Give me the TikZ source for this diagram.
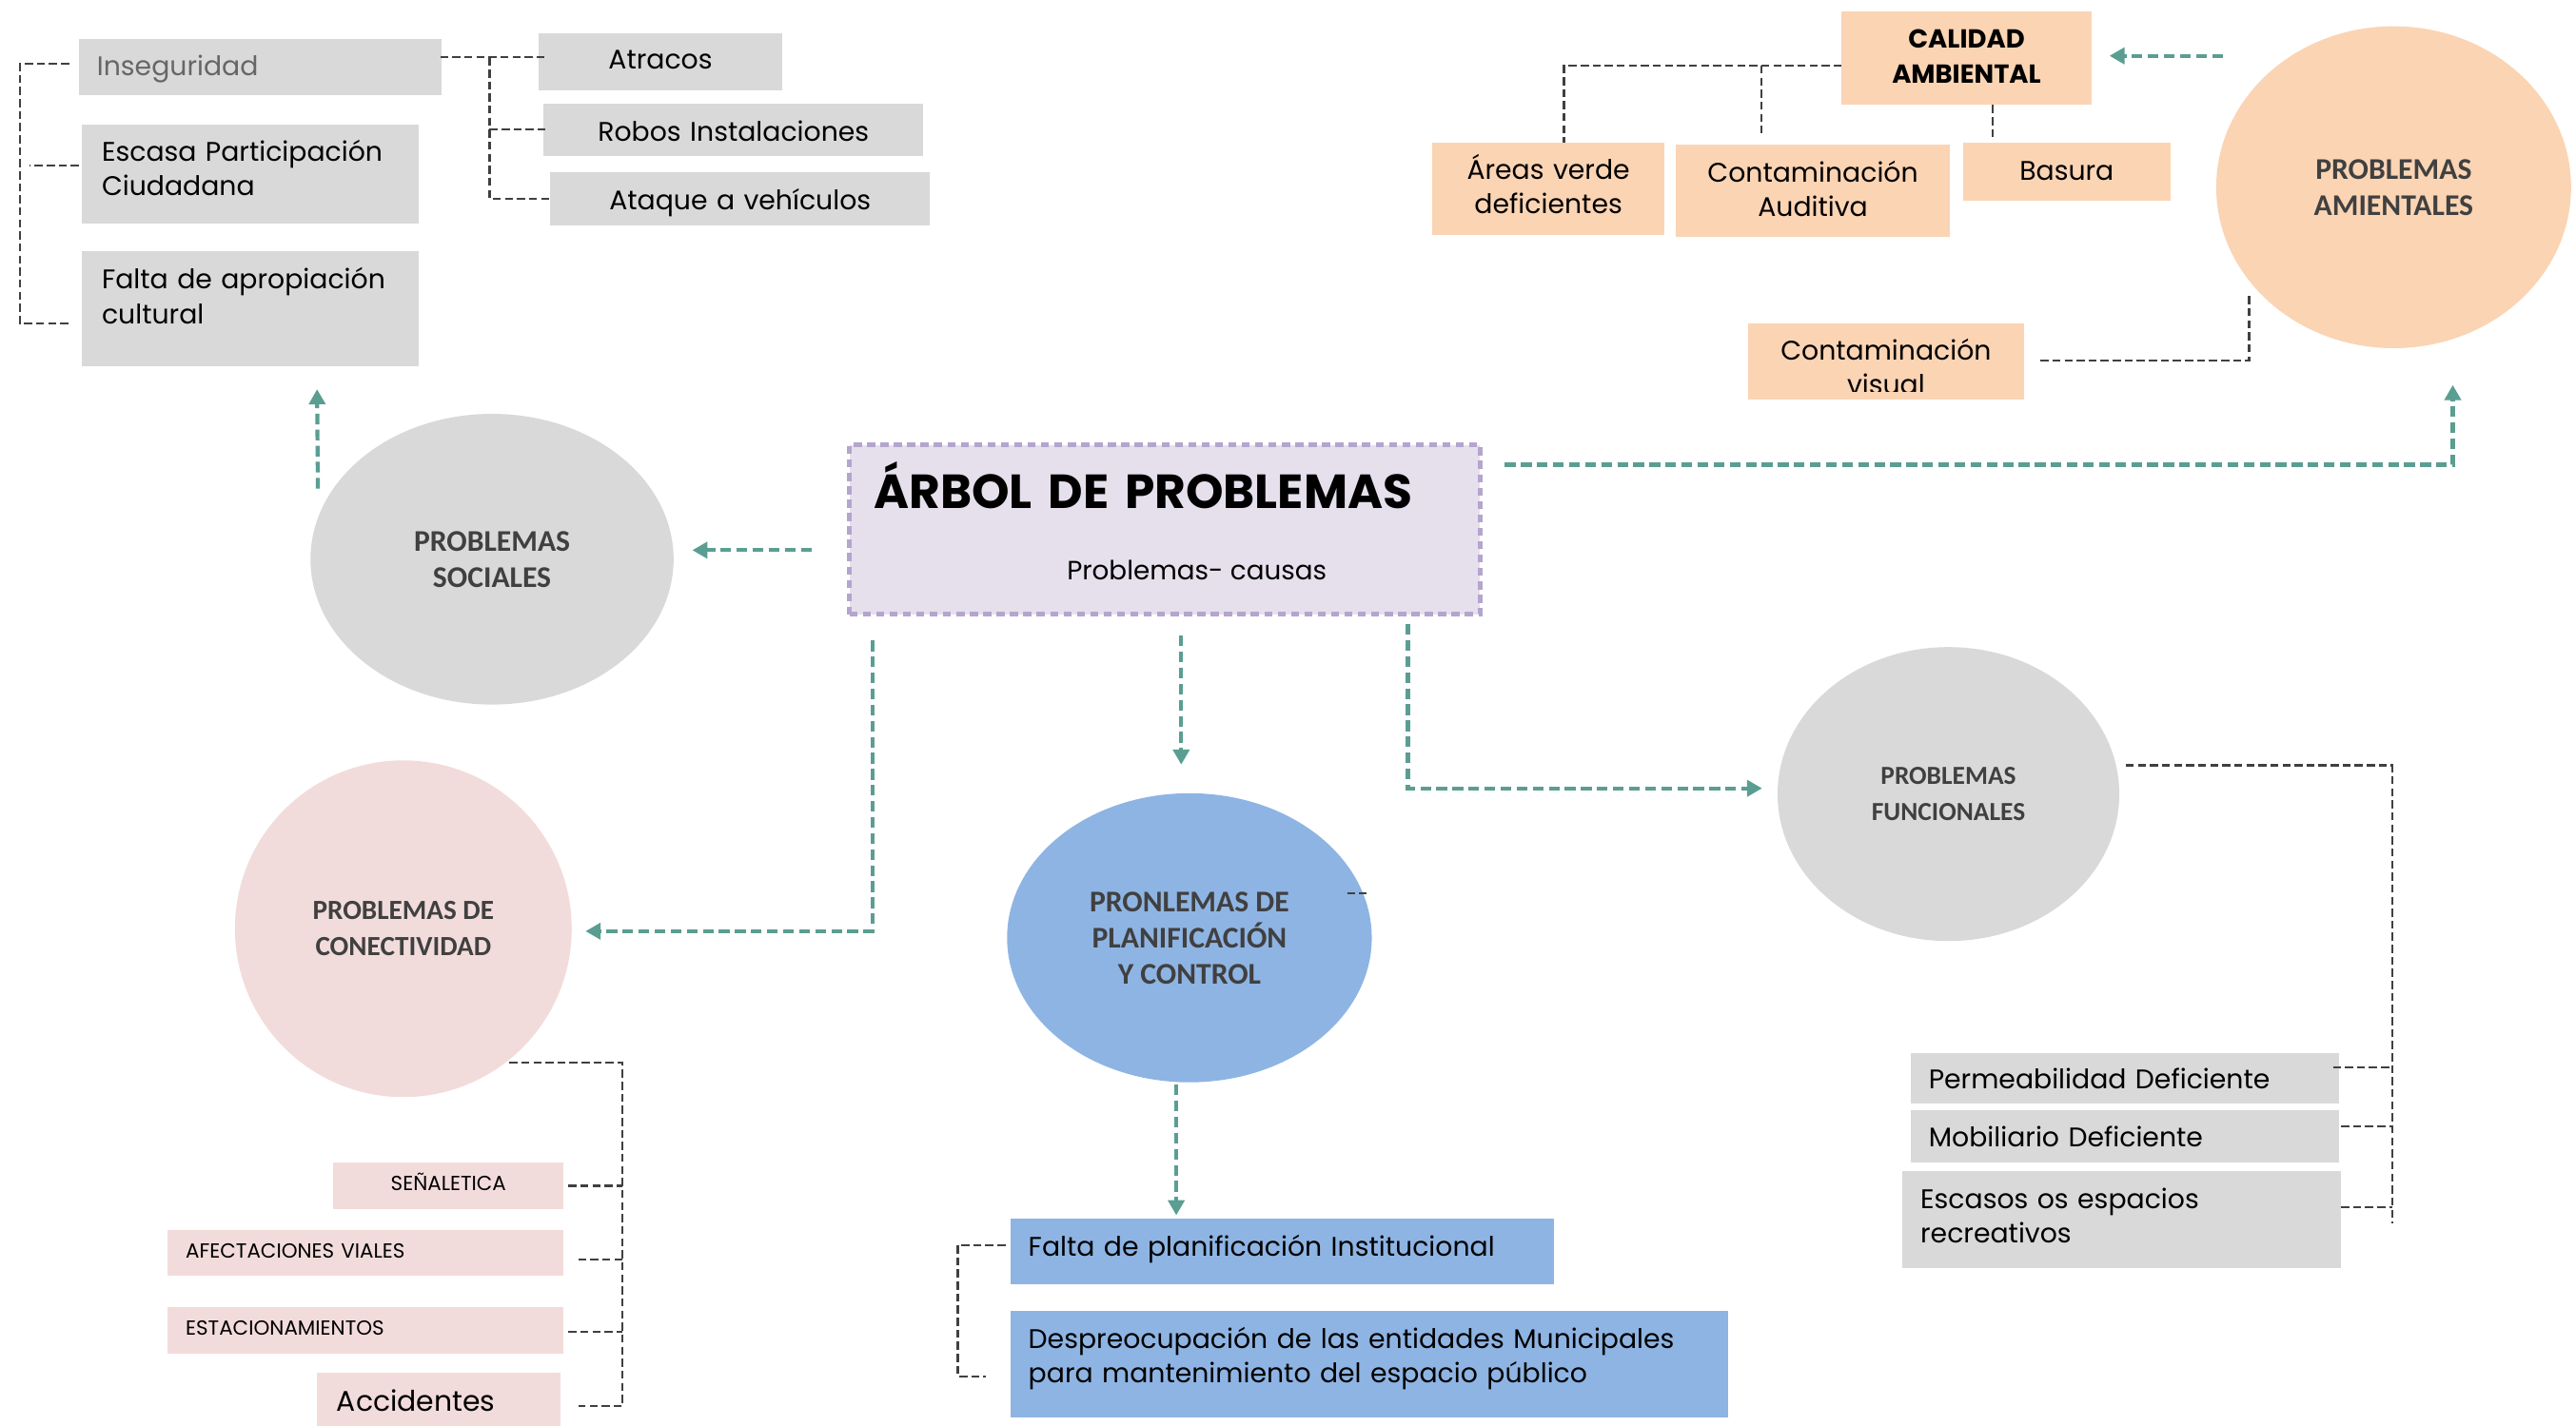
\documentclass[tikz,border=0pt]{standalone}
\usepackage{fontspec}
\setmainfont{Poppins}
\newfontfamily\carl{Carlito}
\usetikzlibrary{arrows.meta,calc,shapes.geometric}
\definecolor{boxgray}{HTML}{D9D9D9}
\definecolor{peach}{HTML}{FBD4B4}
\definecolor{pinkc}{HTML}{F2DCDB}
\definecolor{bluec}{HTML}{8EB4E3}
\definecolor{lav}{HTML}{E5E0EC}
\definecolor{lavb}{HTML}{B4A5CD}
\definecolor{tealc}{HTML}{5A9E92}
\definecolor{dk}{HTML}{404040}
\definecolor{insg}{HTML}{666666}
\newcommand\upx{0.017264cm}
% name, x1, y1, x2, y2, baseline, pad, style, text
\newcommand\mybox[9]{%
  \pgfmathsetlengthmacro\bxw{(#4-#2-2*#7)*\upx}%
  \pgfmathsetlengthmacro\bxh{(#6-#3)*\upx}%
  \pgfmathsetlengthmacro\bxd{(#5-#6)*\upx}%
  \pgfmathsetlengthmacro\bxp{#7*\upx}%
  \node[#8, anchor=north west, text width=\bxw, text height=\bxh, text depth=\bxd,
        inner xsep=\bxp, inner ysep=0pt, outer sep=0pt] (#1) at (#2,#3) {#9};}
\tikzset{
  bt/.style={font=\fontsize{8.05}{10.3}\selectfont},
  st/.style={font=\fontsize{6.1}{7.5}\selectfont},
  circ/.style={ellipse, inner sep=0pt, align=center, text=dk},
  cf/.style={font=\carl\bfseries\fontsize{#1}{10.8}\selectfont},
  dl/.style={draw=dk, line width=0.6pt, dash pattern=on 2.4pt off 1.2pt},
  ta/.style={draw=tealc, line width=1.2pt, dash pattern=on 3.2pt off 1.6pt,
             -{Triangle[length=4.5pt,width=4.8pt]}},
}
\begin{document}
\begin{tikzpicture}[x=\upx, y=-\upx]
\fill[white] (0,0) rectangle (1568,868);
\useasboundingbox (0,0) rectangle (1568,868);

% ---------- top-left (social) boxes
\mybox{ins}{48}{24}{269}{58}{46}{11}{fill=boxgray,bt,align=left,text=insg}{Inseguridad}
\mybox{atr}{328}{20}{476}{55}{42}{0}{fill=boxgray,bt,align=center}{Atracos}
\mybox{rob}{331}{63}{562}{95}{86}{0}{fill=boxgray,bt,align=center}{Robos Instalaciones}
\mybox{ata}{335}{105}{566}{137}{128}{0}{fill=boxgray,bt,align=center}{Ataque a vehículos}
\mybox{esc}{50}{76}{255}{136}{98}{12}{fill=boxgray,bt,align=left}{Escasa Participación\\Ciudadana}
\mybox{fal}{50}{153}{255}{223}{176}{12}{fill=boxgray,bt,align=left}{Falta de apropiación\\cultural}

% ---------- top-right (environment) boxes
\mybox{cal}{1121}{7}{1273}{64}{29.5}{0}{fill=peach,font=\bfseries\fontsize{7.8}{10.3}\selectfont,align=center}{CALIDAD\\AMBIENTAL}
\mybox{are}{872}{87}{1013}{143}{109}{0}{fill=peach,bt,align=center}{Áreas verde\\deficientes}
\mybox{aud}{1020}{88}{1187}{144}{111}{0}{fill=peach,bt,align=center}{Contaminación\\Auditiva}
\mybox{bas}{1195}{87}{1321}{122}{110}{0}{fill=peach,bt,align=center}{Basura}
\fill[peach] (1064,237) rectangle (1232,243);
\begin{scope}
\clip (1064,197) rectangle (1232,238.5);
\mybox{vis}{1064}{197}{1232}{243}{219}{0}{fill=peach,bt,align=center}{Contaminación\\visual}
\end{scope}

% ---------- central box
\mybox{tree}{517}{271}{901}{374}{309.5}{15}{fill=lav,draw=lavb,line width=1.5pt,dash pattern=on 2.4pt off 1.6pt,align=left,font=\bfseries\fontsize{14.3}{17}\selectfont}{ÁRBOL DE PROBLEMAS}
\node[font=\fontsize{7.9}{10}\selectfont, inner sep=0pt] (sub) at (728.5,347) {Problemas- causas};

% ---------- ellipses
\node[circ, fill=boxgray, minimum width=221*\upx, minimum height=177*\upx, cf=9] (soc) at (299.5,340.5) {PROBLEMAS\\SOCIALES};
\node[circ, fill=peach, minimum width=216*\upx, minimum height=196*\upx, cf=9] (amb) at (1457,114) {PROBLEMAS\\AMIENTALES};
\node[circ, fill=pinkc, minimum width=205*\upx, minimum height=205*\upx, cf=8.3] (con) at (245.5,565.5) {PROBLEMAS DE\\CONECTIVIDAD};
\node[circ, fill=bluec, minimum width=222*\upx, minimum height=176*\upx, cf=9] (pla) at (724,571) {PRONLEMAS DE\\PLANIFICACIÓN\\Y CONTROL};
\node[circ, fill=boxgray, minimum width=208*\upx, minimum height=179*\upx, cf=7.8] (fun) at (1186,483.5) {PROBLEMAS\\FUNCIONALES};

% ---------- bottom-left (connectivity) boxes
\mybox{sen}{203}{708}{343}{736}{725}{0}{fill=pinkc,st,align=center}{SEÑALETICA}
\mybox{afe}{102}{749}{343}{777}{766}{11}{fill=pinkc,st,align=left}{AFECTACIONES VIALES}
\mybox{est}{102}{796}{343}{824}{813}{11}{fill=pinkc,st,align=left}{ESTACIONAMIENTOS}
\mybox{acc}{193}{836}{341}{868}{859.5}{12}{fill=pinkc,font=\fontsize{8.5}{11}\selectfont,align=left}{Accidentes}

% ---------- bottom-centre (planning) boxes
\mybox{fpl}{615}{742}{946}{782}{765}{11}{fill=bluec,bt,align=left}{Falta de planificación Institucional}
\mybox{des}{615}{798}{1052}{863}{821}{11}{fill=bluec,bt,align=left}{Despreocupación de las entidades Municipales\\para mantenimiento del espacio público}

% ---------- right (functional) boxes
\mybox{per}{1163}{641}{1424}{672}{663}{11}{fill=boxgray,bt,align=left}{Permeabilidad Deficiente}
\mybox{mob}{1163}{676}{1424}{708}{698}{11}{fill=boxgray,bt,align=left}{Mobiliario Deficiente}
\mybox{esp}{1158}{713}{1425}{772}{736}{11}{fill=boxgray,bt,align=left}{Escasos os espacios\\recreativos}

% ---------- teal arrows
\draw[ta] ($(tree.west)+(-23,12.5)$) -- ($(soc.east)+(11,-5.5)$);
\draw[ta] ($(soc.center)+(-106,-43)$) -- ($(fal.south west)+(143,14)$);
\draw[ta] ($(tree.east)+(15,-39.5)$) -| ($(amb.south)+(36,22)$);
\draw[ta] ($(amb.center)+(-104,-80)$) -- ($(cal.east)+(11,-1.5)$);
\draw[ta] ($(tree.south west)+(14,16)$) |- ($(con.east)+(8,1.5)$);
\draw[ta] ($(tree.south)+(10,13)$) -- ($(pla.north)+(-5,-17)$);
\draw[ta] ($(tree.south east)+(-44,6)$) |- ($(fun.west)+(-9,-3.5)$);
\draw[ta] ($(pla.south)+(-8,1)$) -- ($(fpl.north west)+(101,-2)$);

% ---------- dark dashed brackets
% social
\coordinate (sj) at (298,35);
\draw[dl] ($(ins.east)+(-1,-6)$) -- ($(atr.west)+(4,-2.5)$);
\draw[dl] (sj) -- (sj |- ata.west) -- ($(ata.west)+(1,0)$);
\draw[dl] (sj |- rob.west) -- ($(rob.west)+(1,0)$);
\coordinate (lj1) at (12,39);
\coordinate (lj2) at (12,197);
\draw[dl] ($(ins.west)+(-6,-2)$) -- (lj1) -- (lj2) -- ($(fal.west |- lj2)+(-8,0)$);
\draw[dl] ($(esc.west)+(-2,-5)$) -- ++(-30,0);
% environment
\coordinate (cj) at (952,40);
\coordinate (cj2) at (1072,40);
\draw[dl] ($(cal.west)+(0,4.5)$) -- (cj) -- (cj |- are.north);
\draw[dl] (cj2) -- ($(cj2 |- aud.north)+(0,-7)$);
\draw[dl] ($(cal.south)+(16,0)$) -- ++(0,21);
\coordinate (vj) at (1369,219.5);
\draw[dl] ($(vis.east)+(10,-0.5)$) -- (vj) -- ++(0,-41);
% connectivity
\coordinate (kj1) at (379,647);
\coordinate (kj2) at (379,856);
\draw[dl] ($(con.center)+(64.5,81.5)$) -- (kj1) -- (kj2) -- ($(acc.east |- kj2)+(11,0)$);
\draw[dl] ($(sen.east)+(3,0)$) -- (kj1 |- sen.east);
\draw[dl] ($(afe.east)+(9,4)$) -- ++(27,0);
\draw[dl] ($(est.east)+(3,1)$) -- ++(33,0);
% planning
\coordinate (pj1) at (583,758);
\coordinate (pj2) at (583,838);
\draw[dl] ($(fpl.west)+(-3,-4)$) -- (pj1) -- (pj2) -- ++(17,0);
\draw[dl] ($(pla.center)+(96,-27)$) -- ++(12,0);
% functional
\coordinate (fj1) at (1456,466);
\coordinate (fj2) at (1456,745);
\draw[dl] ($(fun.center)+(108,-17.5)$) -- (fj1) -- (fj2);
\draw[dl] ($(per.east)+(-4,-6.5)$) -- ++(36,0);
\draw[dl] ($(mob.east)+(1,-6)$) -- ++(31,0);
\draw[dl] ($(esp.east)+(0,-7.5)$) -- ++(31,0);
\end{tikzpicture}
\end{document}
